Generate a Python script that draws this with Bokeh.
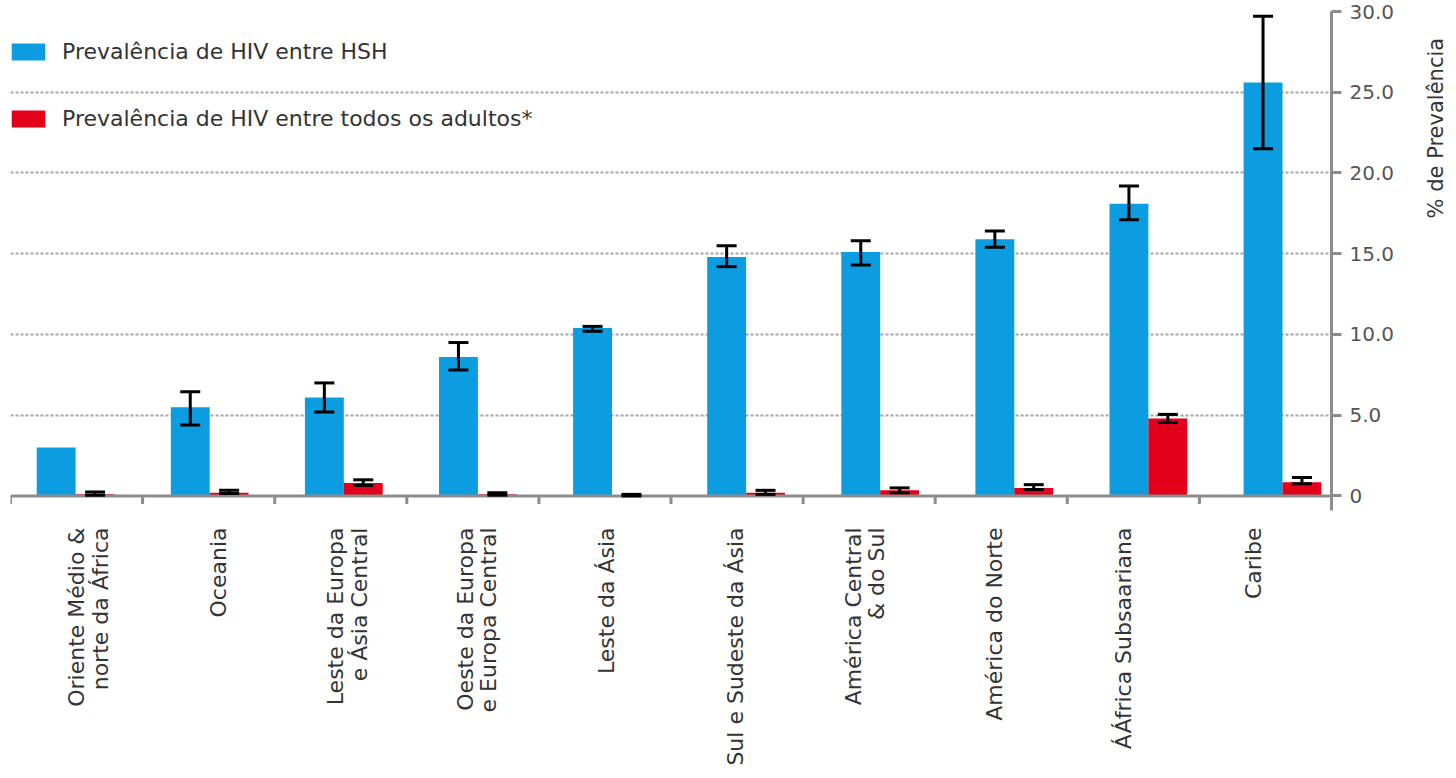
from math import pi
from bokeh.plotting import figure
from bokeh.layouts import row
from bokeh.models import (ColumnDataSource, FactorRange, Range1d, FixedTicker, Whisker,
                          TeeHead, Span, Legend, LegendItem, Label)
from bokeh.transform import dodge
from bokeh.embed import file_html
from bokeh.resources import INLINE

# ---------------- data ----------------
regions = ["Oriente Médio &\nnorte da África", "Oceania", "Leste da Europa\ne Ásia Central",
           "Oeste da Europa\ne Europa Central", "Leste da Ásia", "Sul e Sudeste da Ásia",
           "América Central\n& do Sul", "América do Norte", "ÁÁfrica Subsaariana", "Caribe"]

hsh = [3.0, 5.5, 6.1, 8.6, 10.4, 14.8, 15.1, 15.9, 18.1, 25.6]
hsh_lo = [None, 4.4, 5.2, 7.8, 10.2, 14.2, 14.3, 15.4, 17.1, 21.5]
hsh_hi = [None, 6.45, 7.0, 9.5, 10.5, 15.5, 15.8, 16.4, 19.2, 29.7]

adults = [0.1, 0.2, 0.8, 0.1, 0.05, 0.2, 0.35, 0.5, 4.8, 0.85]
adults_lo = [0.05, 0.15, 0.65, 0.05, 0.0, 0.1, 0.2, 0.4, 4.55, 0.75]
adults_hi = [0.25, 0.35, 1.0, 0.2, 0.1, 0.35, 0.5, 0.7, 5.05, 1.15]

y_ticks = [0, 5, 10, 15, 20, 25, 30]
y_tick_labels = ["0", "5.0", "10.0", "15.0", "20.0", "25.0", "30.0"]

series_labels = ["Prevalência de HIV entre HSH", "Prevalência de HIV entre todos os adultos*"]
y_title = "% de Prevalência"

# ---------------- style ----------------
BLUE = "#0b9ddf"
RED = "#e3001b"
GRAY = "#8c8c8c"
GRID = "#a3a3a3"
TXT = "#333333"
FONT = "DejaVu Sans"
BLUE_OFF, RED_OFF, BAR_W = -0.085, 0.205, 0.29

label_range = FactorRange(factors=regions, range_padding=0.1045, range_padding_units="absolute")
tick_range = FactorRange(factors=regions, range_padding=0)
bar_range = FactorRange(factors=regions, range_padding=-0.0745, range_padding_units="absolute")

p = figure(x_range=label_range, y_range=Range1d(-0.9, 30),
           width=1418, height=770, y_axis_location="right",
           output_backend="svg", toolbar_location=None,
           min_border_left=10, min_border_top=11, min_border_right=87, min_border_bottom=260)
p.extra_x_ranges = {"ticks": tick_range, "bars": bar_range}
p.outline_line_color = None
p.background_fill_color = "white"

src = ColumnDataSource(dict(cat=regions, hsh=hsh, adults=adults))

b1 = p.vbar(x=dodge("cat", BLUE_OFF, range=bar_range), top="hsh", width=BAR_W, bottom=0,
            source=src, fill_color=BLUE, line_color=None, x_range_name="bars")
b2 = p.vbar(x=dodge("cat", RED_OFF, range=bar_range), top="adults", width=BAR_W, bottom=0,
            source=src, fill_color=RED, line_color=None, x_range_name="bars")

# category boundary ticks
p.segment(x0=dodge("cat", -0.5, range=tick_range), y0=0,
          x1=dodge("cat", -0.5, range=tick_range), y1=-0.5,
          source=src, line_color=GRAY, line_width=3, x_range_name="ticks")

p.add_layout(Span(location=0, dimension="width", line_color=GRAY, line_width=3, level="overlay"))

# error bars
idx = [i for i, v in enumerate(hsh_lo) if v is not None]
src_eh = ColumnDataSource(dict(cat=[regions[i] for i in idx],
                               lo=[hsh_lo[i] for i in idx], hi=[hsh_hi[i] for i in idx]))
src_ea = ColumnDataSource(dict(cat=regions, lo=adults_lo, hi=adults_hi))
for s, off in ((src_eh, BLUE_OFF), (src_ea, RED_OFF)):
    w = Whisker(source=s, base=dodge("cat", off, range=bar_range), upper="hi", lower="lo",
                line_color="black", line_width=3, level="overlay", x_range_name="bars",
                upper_head=TeeHead(size=20, line_color="black", line_width=3),
                lower_head=TeeHead(size=20, line_color="black", line_width=3))
    p.add_layout(w)

# x axis
p.xaxis.major_label_orientation = pi / 2
p.xaxis.axis_line_color = None
p.xaxis.major_tick_line_color = None
p.xaxis.minor_tick_line_color = None
p.xaxis.major_tick_out = 0
p.xaxis.major_tick_in = 0
p.xaxis.major_label_standoff = 17
p.xaxis.major_label_text_font = FONT
p.xaxis.major_label_text_font_size = "22px"
p.xaxis.major_label_text_line_height = 0.95
p.xaxis.major_label_text_color = TXT
p.xgrid.visible = False

# y axis (right)
p.yaxis.ticker = FixedTicker(ticks=y_ticks)
p.yaxis.major_label_overrides = {t: l for t, l in zip(y_ticks, y_tick_labels)}
p.yaxis.axis_line_color = GRAY
p.yaxis.axis_line_width = 3
p.yaxis.major_tick_line_color = GRAY
p.yaxis.major_tick_line_width = 3
p.yaxis.major_tick_out = 10
p.yaxis.major_tick_in = 0
p.yaxis.minor_tick_line_color = None
p.yaxis.major_label_standoff = 8
p.yaxis.major_label_text_font = FONT
p.yaxis.major_label_text_font_size = "20px"
p.yaxis.major_label_text_color = "#555555"

p.ygrid.ticker = FixedTicker(ticks=y_ticks[1:])
p.ygrid.grid_line_color = GRID
p.ygrid.grid_line_width = 2
p.ygrid.grid_line_dash = "3 2"

legend = Legend(items=[LegendItem(label=series_labels[0], renderers=[b1]),
                       LegendItem(label=series_labels[1], renderers=[b2])],
                location=(-3, 379), orientation="vertical",
                glyph_width=42, glyph_height=21, label_height=21, spacing=42,
                label_standoff=13, padding=0, margin=0,
                border_line_color=None, background_fill_alpha=0,
                label_text_font=FONT, label_text_font_size="22px", label_text_color=TXT)
p.add_layout(legend)

# narrow strip on the right carrying the vertical axis title
t = figure(width=28, height=770, x_range=Range1d(0, 28), y_range=Range1d(0, 770),
           x_axis_location=None, y_axis_location=None, min_border=0,
           output_backend="svg", toolbar_location=None)
t.outline_line_color = None
t.grid.visible = False
t.add_layout(Label(x=17, y=590, text=y_title, angle=pi / 2,
                   text_align="center", text_baseline="middle",
                   text_font=FONT, text_font_size="21px", text_color=TXT))

layout = row(p, t)
open("out.html", "w").write(file_html(layout, INLINE))
